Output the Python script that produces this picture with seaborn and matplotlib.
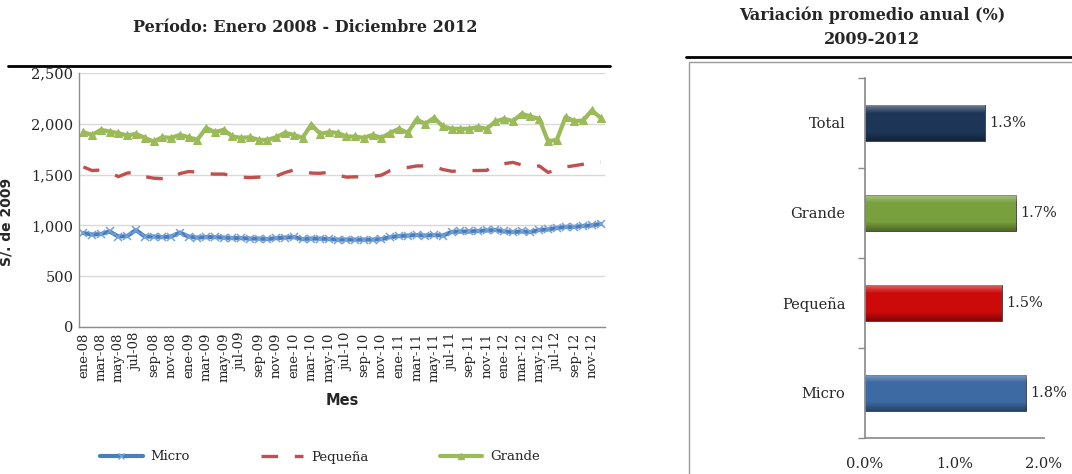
import numpy as np
import pandas as pd
import matplotlib
matplotlib.use("Agg")
import matplotlib.pyplot as plt
from matplotlib.lines import Line2D
from matplotlib.patches import Rectangle
import seaborn as sns

# ---- datos ----
meses_abr = ["ene", "feb", "mar", "abr", "may", "jun", "jul", "ago", "sep", "oct", "nov", "dic"]
anios = ["08", "09", "10", "11", "12"]
meses = [m + "-" + a for a in anios for m in meses_abr]

micro = [925, 910, 915, 940, 890, 895, 955, 890, 890, 885, 890, 930,
         890, 880, 885, 885, 880, 875, 875, 870, 870, 865, 875, 880,
         885, 865, 870, 870, 865, 860, 860, 860, 860, 860, 865, 885,
         895, 900, 905, 900, 905, 900, 935, 940, 940, 945, 950, 955,
         940, 935, 940, 935, 955, 960, 975, 985, 985, 995, 1000, 1015]
pequena = [1575, 1540, 1545, 1520, 1480, 1515, 1525, 1480, 1465, 1460, 1455, 1510,
           1530, 1525, 1510, 1505, 1505, 1490, 1475, 1470, 1475, 1475, 1485, 1520,
           1545, 1535, 1515, 1513, 1523, 1495, 1475, 1478, 1478, 1482, 1495, 1540,
           1565, 1570, 1585, 1586, 1580, 1550, 1533, 1535, 1540, 1540, 1542, 1590,
           1608, 1620, 1595, 1578, 1585, 1522, 1545, 1575, 1588, 1602, 1615, 1625]
grande = [1918, 1891, 1941, 1924, 1908, 1885, 1901, 1862, 1826, 1868, 1862, 1891,
          1868, 1842, 1960, 1918, 1941, 1875, 1862, 1868, 1842, 1842, 1868, 1911,
          1891, 1862, 1993, 1901, 1918, 1911, 1875, 1875, 1862, 1891, 1862, 1911,
          1951, 1911, 2043, 2000, 2059, 1974, 1951, 1951, 1951, 1967, 1951, 2023,
          2049, 2026, 2099, 2072, 2049, 1829, 1842, 2066, 2026, 2033, 2132, 2059]

categorias = ["Total", "Grande", "Pequeña", "Micro"]
variacion = [1.34, 1.69, 1.53, 1.80]
colores_bar = ["#1d3657", "#78a03d", "#cc0a0a", "#3d6aa2"]

sns.set_theme(style="white")
plt.rcParams["font.family"] = ["DejaVu Serif"]

W, H = 1072, 474
fig = plt.figure(figsize=(W / 100, H / 100), dpi=100)


def px_axes(x0, y0, x1, y1):
    return fig.add_axes([x0 / W, 1 - y1 / H, (x1 - x0) / W, (y1 - y0) / H])


# ---- grafico de lineas ----
df = pd.DataFrame({"idx": np.arange(len(meses)), "Micro": micro,
                   "Pequeña": pequena, "Grande": grande})
ax = px_axes(79, 73, 605, 327)
sns.lineplot(data=df, x="idx", y="Micro", ax=ax, color="#4a7ebb", lw=3,
             marker="x", markersize=5.5, markeredgecolor="#76a2da", markeredgewidth=1.1)
sns.lineplot(data=df, x="idx", y="Pequeña", ax=ax, color="#c0504d", lw=2.4)
ax.lines[-1].set_dashes((5, 5))
sns.lineplot(data=df, x="idx", y="Grande", ax=ax, color="#9bbb59", lw=3,
             marker="^", markersize=5.5, markeredgecolor="#9bbb59")

ax.set_xlim(-0.5, len(meses) - 0.5)
ax.set_ylim(0, 2500)
ax.set_yticks(range(0, 2501, 500))
ax.set_yticklabels([f"{v:,}" for v in range(0, 2501, 500)], fontsize=10.5)
ax.set_xticks(df["idx"][::2])
ax.set_xticklabels(meses[::2], rotation=90, fontsize=9.5)
ax.tick_params(axis="both", length=0, pad=4)
ax.yaxis.grid(True, color="#d9d9d9", lw=1)
ax.set_axisbelow(True)
for s in ["top", "right"]:
    ax.spines[s].set_visible(False)
for s in ["left", "bottom"]:
    ax.spines[s].set_color("#8c8c8c")
    ax.spines[s].set_linewidth(1)
ax.set_xlabel("Mes", fontsize=10.5, fontweight="bold", family="DejaVu Sans", labelpad=8)
ax.set_ylabel("")
fig.text(7 / W, 1 - 222 / H, "S/. de 2009", rotation=90, fontsize=10, fontweight="bold",
         family="DejaVu Sans", ha="center", va="center")

fig.text(305 / W, 1 - 27 / H, "Período: Enero 2008 - Diciembre 2012",
         fontsize=11.5, fontweight="bold", ha="center", va="center")
fig.add_artist(Line2D([8 / W, 610 / W], [1 - 66 / H] * 2, color="black", lw=2))

handles = [Line2D([], [], color="#4a7ebb", lw=3, marker="x", markersize=5,
                  markeredgecolor="#76a2da"),
           Line2D([], [], color="#c0504d", lw=2.4, dashes=(5, 5)),
           Line2D([], [], color="#9bbb59", lw=3, marker="^", markersize=4)]
fig.legend(handles, ["Micro", "Pequeña", "Grande"], loc="center",
           bbox_to_anchor=(320 / W, 1 - 457 / H), ncol=3, frameon=False,
           fontsize=9.5, handlelength=3.2, columnspacing=5.4, handletextpad=0.6)

# ---- grafico de barras ----
fig.add_artist(Rectangle((689 / W, -0.01), 0.5, 1 - 62 / H + 0.01,
                         transform=fig.transFigure, fill=False,
                         edgecolor="#9a9a9a", lw=1))
fig.add_artist(Line2D([686 / W, 1.0], [1 - 57 / H] * 2, color="black", lw=2))
fig.text(872 / W, 1 - 15 / H, "Variación promedio anual (%)", fontsize=11.5,
         fontweight="bold", ha="center", va="center")
fig.text(872 / W, 1 - 40 / H, "2009-2012", fontsize=11.5,
         fontweight="bold", ha="center", va="center")

bx = px_axes(865, 78, 1044, 438)
dfb = pd.DataFrame({"cat": categorias, "val": variacion})
sns.barplot(data=dfb, y="cat", x="val", hue="cat", palette=colores_bar,
            legend=False, orient="h", width=0.4, ax=bx, saturation=1,
            edgecolor="#3a3a3a", linewidth=0.6)
bx.set_xlim(0, 2.0)
bx.set_ylim(3.5, -0.5)

# efecto biselado: degradado claro arriba, oscuro abajo
grad = np.zeros((40, 2, 4))
t = np.linspace(0, 1, 40)
grad[:, :, :3] = np.where(t < 0.5, 1.0, 0.0)[:, None, None]
grad[:, :, 3] = (np.clip(0.35 - t * 1.6, 0, None) + np.clip((t - 0.75) * 1.4, 0, None))[:, None]
for p in list(bx.patches):
    x0, y0 = p.get_x(), p.get_y()
    w, h = p.get_width(), p.get_height()
    im = bx.imshow(grad, extent=(x0, x0 + w, y0 + h, y0), aspect="auto",
                   origin="upper", zorder=p.get_zorder() + 0.1)
    im.set_clip_path(p)
bx.set_xlim(0, 2.0)
bx.set_ylim(3.5, -0.5)

for i, v in enumerate(variacion):
    bx.text(v + 0.05, i, f"{v:.1f}%", va="center", ha="left", fontsize=10.5)
bx.set_xticks([0, 1.0, 2.0])
bx.set_xticklabels(["0.0%", "1.0%", "2.0%"], fontsize=10.5)
bx.set_yticks(range(4))
bx.set_yticklabels(categorias, fontsize=10.5)
bx.set_yticks(np.arange(-0.5, 4, 1), minor=True)
bx.tick_params(axis="y", which="major", length=0, pad=14)
bx.tick_params(axis="y", which="minor", length=5, color="#8c8c8c", width=1, left=True)
bx.tick_params(axis="x", length=0, pad=14)
bx.set_xlabel("")
bx.set_ylabel("")
for s in ["top", "right"]:
    bx.spines[s].set_visible(False)
for s in ["left", "bottom"]:
    bx.spines[s].set_color("#8c8c8c")

fig.savefig("out.png", dpi=100)
